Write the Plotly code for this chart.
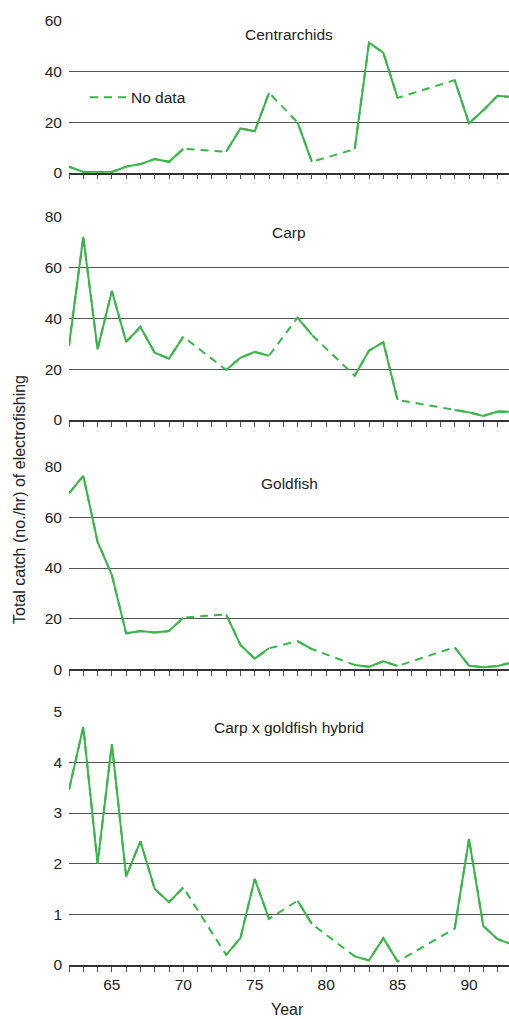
import plotly.graph_objects as go

years = list(range(62, 94))
N = None
centrarchids = [2.4, 0.3, 0.3, 0.3, 2.4, 3.4, 5.4, 4.3, 9.5, N, N, 8.3, 17.5, 16.4, 31.6, N,
                19.9, 4.3, N, N, 9.3, 51.4, 47.5, 29.6, N, N, N, 36.6, 19.5, 24.7, 30.4, 29.9]
carp = [29.2, 72.1, 27.8, 50.8, 30.8, 36.6, 26.5, 24.1, 32.8, N, N, 19.7, 24.5, 26.8, 25.3, N,
        40.3, 33.5, N, N, 17.4, 27.3, 30.6, 7.9, N, N, N, 3.9, 3.0, 1.6, 3.3, 3.2]
goldfish = [69.5, 76.4, 50.4, 37.2, 14.2, 15.1, 14.5, 15.1, 20.4, N, N, 21.7, 9.6, 4.2, 8.3, N,
            11.1, 8.0, N, N, 1.7, 1.0, 3.2, 1.3, N, N, N, 8.7, 1.4, 0.8, 1.3, 2.7]
hybrid = [3.46, 4.70, 2.0, 4.36, 1.75, 2.44, 1.50, 1.24, 1.53, N, N, 0.2, 0.53, 1.70, 0.91, N,
          1.27, 0.81, N, N, 0.17, 0.09, 0.53, 0.07, N, N, N, 0.72, 2.49, 0.77, 0.51, 0.41]

panel_names = ["Centrarchids", "Carp", "Goldfish", "Carp x goldfish hybrid"]
panel_series = [centrarchids, carp, goldfish, hybrid]
y_ticks = [[0, 20, 40, 60], [0, 20, 40, 60, 80], [0, 20, 40, 60, 80], [0, 1, 2, 3, 4, 5]]
y_ranges = [[0, 60], [0, 80], [0, 80], [0, 5]]
title_y = [54.8, 73.8, 73.3, 4.69]
x_tick_labels = {65: "65", 70: "70", 75: "75", 80: "80", 85: "85", 90: "90"}
x_range = [62, 92.8]

GREEN = "rgb(57,181,74)"
FONT = "Liberation Sans, Arial, sans-serif"
FS = 15.5

W, H = 509, 1019
mt, mb, ml, mr = 21, 54, 69, 0
ph = H - mt - mb
panels_px = [(21.0, 172.7), (216.7, 420.0), (466.7, 669.3), (711.7, 965.0)]


def to_paper(py):
    return (H - mb - py) / ph


def clamp(v):
    return max(0.0, min(1.0, v))


fig = go.Figure()
layout = dict(
    width=W, height=H,
    margin=dict(l=ml, r=mr, t=mt, b=mb),
    paper_bgcolor="white", plot_bgcolor="white",
    font=dict(family=FONT, size=FS, color="#222"),
    showlegend=True,
    legend=dict(x=(85 - ml) / (W - ml), y=to_paper(97.7), xanchor="left", yanchor="middle",
                bgcolor="rgba(0,0,0,0)", borderwidth=0, font=dict(size=FS, color="#222"),
                itemwidth=36),
)
annotations = []
for i, (name, vals) in enumerate(zip(panel_names, panel_series)):
    k = "" if i == 0 else str(i + 1)
    top, bot = panels_px[i]
    is_last = i == len(panel_names) - 1
    layout["xaxis" + k] = dict(
        domain=[0, 1], range=x_range, anchor="y" + k,
        tickvals=years,
        ticktext=[x_tick_labels.get(y, "") if is_last else "" for y in years],
        ticks="outside", ticklen=5, tickwidth=1, tickcolor="#555",
        showgrid=False, showline=True, linecolor="#333", linewidth=1.5,
        zeroline=False, tickfont=dict(size=FS, color="#222"),
    )
    layout["yaxis" + k] = dict(
        domain=[clamp(to_paper(bot)), clamp(to_paper(top))], range=y_ranges[i], anchor="x" + k,
        tickvals=y_ticks[i], showgrid=True, gridcolor="#555", gridwidth=1,
        showline=False, zeroline=False, ticks="", ticklabelstandoff=6,
        tickfont=dict(size=FS, color="#222"),
    )
    fig.add_trace(go.Scatter(x=years, y=vals, mode="lines", connectgaps=True,
                             line=dict(color=GREEN, width=2, dash="8px,6px"),
                             xaxis="x" + k, yaxis="y" + k, showlegend=False, hoverinfo="skip"))
    fig.add_trace(go.Scatter(x=years, y=vals, mode="lines", connectgaps=False,
                             line=dict(color=GREEN, width=2),
                             xaxis="x" + k, yaxis="y" + k, showlegend=False, name=name))
    annotations.append(dict(text=name, x=0.5, xref="paper", y=title_y[i], yref="y" + k,
                            xanchor="center", yanchor="middle", showarrow=False,
                            font=dict(size=FS, color="#222")))

fig.add_trace(go.Scatter(x=[None], y=[None], mode="lines", name="No data",
                         line=dict(color=GREEN, width=2, dash="8px,6px"), showlegend=True))

annotations.append(dict(text="Total catch (no./hr) of electrofishing", textangle=-90,
                        x=(20 - ml) / (W - ml), xref="paper", y=to_paper(500), yref="paper",
                        xanchor="center", yanchor="middle", showarrow=False,
                        font=dict(size=16, color="#222")))
annotations.append(dict(text="Year", x=(287 - ml) / (W - ml), xref="paper", y=to_paper(1010),
                        yref="paper", xanchor="center", yanchor="middle", showarrow=False,
                        font=dict(size=16, color="#222")))
layout["annotations"] = annotations
fig.update_layout(**layout)

fig.write_html("out.html")
